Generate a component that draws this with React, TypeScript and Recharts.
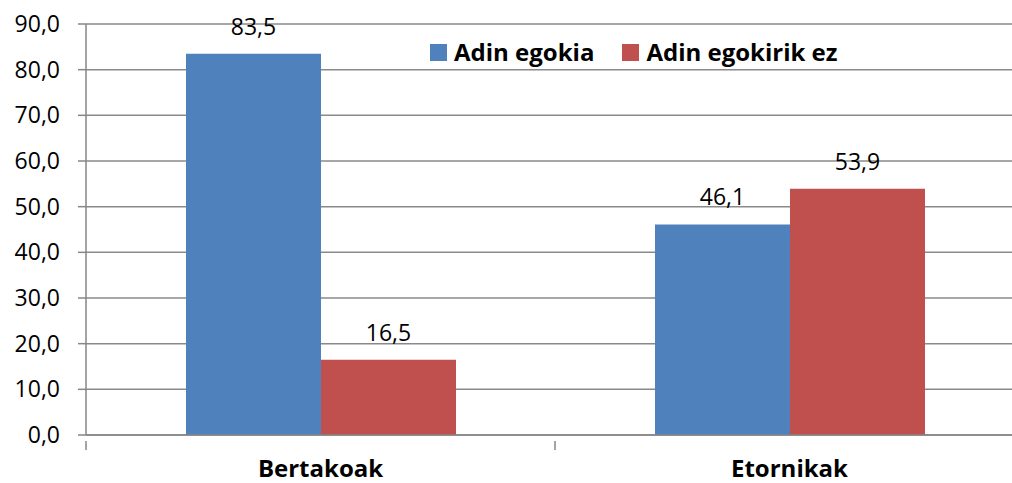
import React from "react";
import { BarChart, Bar, XAxis, YAxis, CartesianGrid, LabelList } from "recharts";

const categories = ["Bertakoak", "Etornikak"];
const adinEgokia = [83.5, 46.1];
const adinEgokirikEz = [16.5, 53.9];
const yTicks = [0, 10, 20, 30, 40, 50, 60, 70, 80, 90];
const seriesNames = ["Adin egokia", "Adin egokirik ez"];
const colors = ["#4F81BD", "#C0504D"];

const data = categories.map((c, i) => ({ name: c, a: adinEgokia[i], b: adinEgokirikEz[i] }));

const FONT = "'Open Sans', 'Liberation Sans', sans-serif";
const fmt = (v: any) => Number(v).toFixed(1).replace(".", ",");

const XTick = (props: any) => {
  const { x, y, payload, index } = props;
  const off = payload.offset || 0;
  return (
    <g>
      <line x1={x - off} x2={x - off} y1={y - 2} y2={y + 7} stroke="#868686" strokeWidth={1.5} />
      {index === categories.length - 1 && (
        <line x1={x + off} x2={x + off} y1={y - 2} y2={y + 7} stroke="#868686" strokeWidth={1.5} />
      )}
      <text x={x} y={y + 34} textAnchor="middle" fontFamily={FONT} fontWeight="bold" fontSize={24} fill="#000">
        {payload.value}
      </text>
    </g>
  );
};

const LegendBox = () => (
  <div style={{ position: "absolute", left: 430, top: 37, display: "flex", alignItems: "center", fontFamily: FONT, fontWeight: "bold", fontSize: 24, color: "#000", whiteSpace: "nowrap", lineHeight: "30px" }}>
    {seriesNames.map((n, i) => (
      <span key={n} style={{ display: "flex", alignItems: "center", marginRight: i === 0 ? 28 : 0 }}>
        <span style={{ display: "inline-block", width: 17, height: 17, background: colors[i], marginRight: 7 }} />
        {n}
      </span>
    ))}
  </div>
);

export default function App() {
  return (
    <div style={{ position: "fixed", left: 0, top: 0, width: 1012, height: 483, overflow: "hidden", background: "#fff" }}>
      <BarChart
        width={1040}
        height={483}
        data={data}
        margin={{ top: 24, right: 16, left: 0, bottom: 0 }}
        barCategoryGap={100}
        barGap={0}
        style={{ overflow: "visible" }}
      >
        <CartesianGrid vertical={false} stroke="#8a8a8a" strokeWidth={1.5} />
        <XAxis
          dataKey="name"
          height={48}
          tick={<XTick />}
          tickLine={false}
          axisLine={{ stroke: "#868686", strokeWidth: 1.5 }}
          interval={0}
        />
        <YAxis
          width={86}
          domain={[0, 90]}
          ticks={yTicks}
          tickFormatter={fmt}
          tickSize={8}
          tickMargin={18}
          tickLine={{ stroke: "#868686", strokeWidth: 1.5 }}
          axisLine={{ stroke: "#868686", strokeWidth: 1.5 }}
          tick={{ fontFamily: FONT, fontSize: 23, fill: "#000" }}
          allowDataOverflow
        />
        <Bar dataKey="a" name={seriesNames[0]} fill={colors[0]} isAnimationActive={false}>
          <LabelList dataKey="a" position="top" offset={19} formatter={fmt} style={{ fontFamily: FONT, fontSize: 23, fill: "#000" }} />
        </Bar>
        <Bar dataKey="b" name={seriesNames[1]} fill={colors[1]} isAnimationActive={false}>
          <LabelList dataKey="b" position="top" offset={19} formatter={fmt} style={{ fontFamily: FONT, fontSize: 23, fill: "#000" }} />
        </Bar>
      </BarChart>
      <LegendBox />
    </div>
  );
}
